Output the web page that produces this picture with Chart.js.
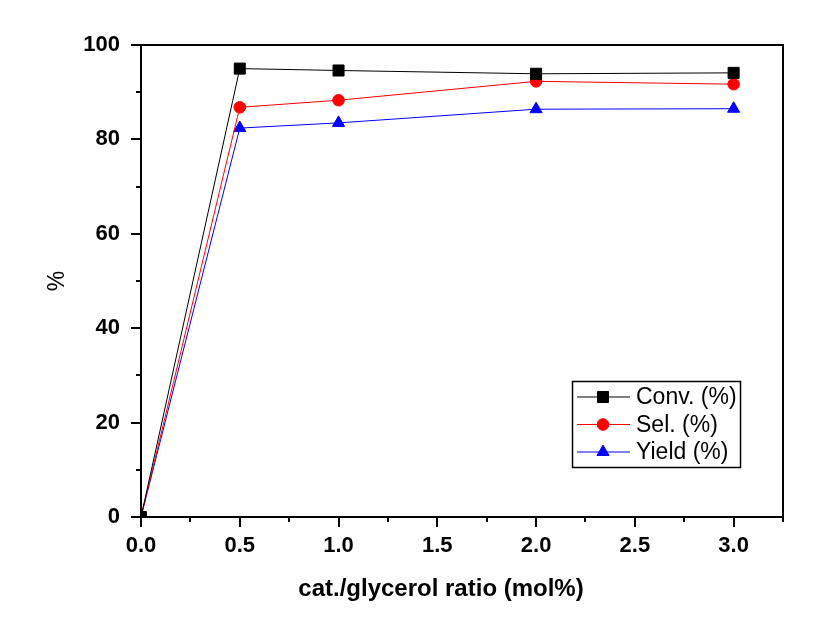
<!DOCTYPE html>
<html>
<head>
<meta charset="utf-8">
<script src="https://cdn.jsdelivr.net/npm/chart.js@4"></script>
<style>
  html, body { margin: 0; background: #fff; }
</style>
</head>
<body>
<canvas id="chartRatio" width="837" height="617"></canvas>
<script>
const ratios = [0, 0.5, 1.0, 2.0, 3.0]
const conv = [0, 95.0, 94.6, 93.9, 94.1]
const sel = [0, 86.8, 88.3, 92.3, 91.7]
const yieldPct = [0, 82.4, 83.5, 86.4, 86.5]
const seriesNames = ['Conv. (%)', 'Sel. (%)', 'Yield (%)']
const xTitle = 'cat./glycerol ratio (mol%)'
const yTitle = '%'

const FONT = 'Arial, "Liberation Sans", sans-serif'
const pts = (ys) => ratios.map((x, i) => ({ x, y: ys[i] }))

const series = (label, data, color, pointStyle, radius) => ({
  label,
  data: pts(data),
  borderColor: color,
  backgroundColor: color,
  borderWidth: 1,
  pointStyle,
  pointRadius: radius,
  pointHoverRadius: radius,
  pointBorderWidth: 1,
  pointBackgroundColor: color,
  tension: 0
})

// axis frame, outward ticks (major + minor), x title and the boxed legend
const frame = {
  id: 'frame',
  afterDraw (chart) {
    const { ctx, chartArea: a, scales: { x, y } } = chart
    ctx.save()
    ctx.strokeStyle = '#000'
    ctx.lineWidth = 2
    ctx.strokeRect(a.left, a.top, a.right - a.left, a.bottom - a.top)

    ctx.beginPath()
    for (let k = 0; k <= 13; k++) {
      const px = Math.round(x.getPixelForValue(k * 0.25))
      ctx.moveTo(px, a.bottom)
      ctx.lineTo(px, a.bottom + (k % 2 === 0 ? 10 : 5))
    }
    for (let k = 0; k <= 10; k++) {
      const py = Math.round(y.getPixelForValue(k * 10))
      ctx.moveTo(a.left, py)
      ctx.lineTo(a.left - (k % 2 === 0 ? 10 : 5), py)
    }
    ctx.stroke()

    ctx.fillStyle = '#000'
    ctx.font = 'bold 24px ' + FONT
    ctx.textAlign = 'center'
    ctx.textBaseline = 'middle'
    ctx.fillText(xTitle, 441, 589)

    // legend
    ctx.lineWidth = 1.5
    ctx.strokeRect(572.5, 381.5, 168, 86)
    ctx.font = '23px ' + FONT
    ctx.textAlign = 'left'
    chart.data.datasets.forEach((ds, i) => {
      const ly = 397 + i * 27.5
      ctx.strokeStyle = ds.borderColor
      ctx.lineWidth = 1
      ctx.beginPath()
      ctx.moveTo(577, ly)
      ctx.lineTo(630, ly)
      ctx.stroke()
      ctx.fillStyle = ds.pointBackgroundColor
      Chart.helpers.drawPoint(ctx, { pointStyle: ds.pointStyle, radius: ds.pointRadius, borderWidth: 1 }, 603, ly)
      ctx.fillStyle = '#000'
      ctx.fillText(ds.label, 636, ly + 1)
    })
    ctx.restore()
  }
}

const ctx = document.getElementById('chartRatio').getContext('2d')
const c = new Chart(ctx, {
  type: 'line',
  data: {
    datasets: [
      series(seriesNames[0], conv, '#000000', 'rect', 7.8),
      series(seriesNames[1], sel, '#ff0000', 'circle', 5.8),
      series(seriesNames[2], yieldPct, '#0000ff', 'triangle', 7)
    ]
  },
  options: {
    responsive: false,
    animation: false,
    devicePixelRatio: 1,
    layout: { padding: { left: 0, top: 45, right: 54, bottom: 0 } },
    plugins: { legend: { display: false }, tooltip: { enabled: false } },
    scales: {
      x: {
        type: 'linear',
        min: 0,
        max: 3.25,
        afterFit: (s) => { s.height = 100 },
        border: { display: false },
        grid: { display: false, drawTicks: false },
        ticks: {
          stepSize: 0.5,
          includeBounds: false,
          padding: 16,
          color: '#000',
          maxRotation: 0,
          font: { family: FONT, size: 22, weight: 'bold' },
          callback: (v) => v.toFixed(1)
        }
      },
      y: {
        min: 0,
        max: 100,
        afterFit: (s) => { s.width = 141 },
        border: { display: false },
        grid: { display: false, drawTicks: false },
        ticks: {
          stepSize: 20,
          padding: 21,
          color: '#000',
          font: { family: FONT, size: 22, weight: 'bold' }
        },
        title: {
          display: true,
          text: yTitle,
          color: '#000',
          padding: { top: 44, bottom: 0 },
          font: { family: FONT, size: 23 }
        }
      }
    }
  },
  plugins: [frame]
})
</script>
</body>
</html>
